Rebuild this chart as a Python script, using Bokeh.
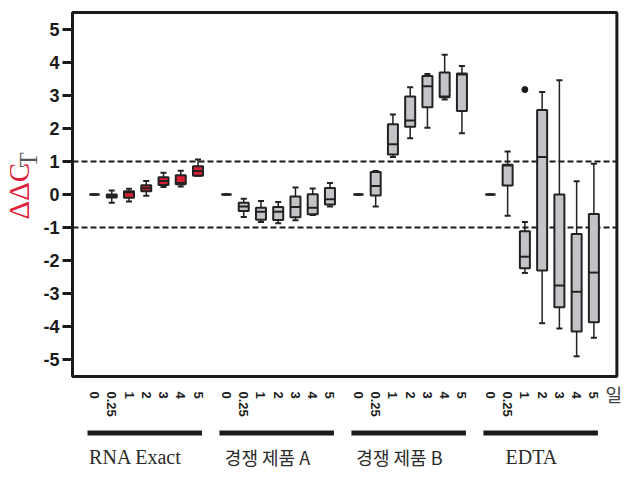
import math
from bokeh.plotting import figure
from bokeh.models import ColumnDataSource, LinearAxis, FixedTicker
from bokeh.core.properties import value
from bokeh.embed import file_html
from bokeh.resources import INLINE

# ---- data ----
days = ["0", "0.25", "1", "2", "3", "4", "5"]
groups = ["RNA Exact", "경쟁 제품 A", "경쟁 제품 B", "EDTA"]
unit_label = "일"

rna_lo  = [0, -0.25, -0.21, -0.04, 0.23, 0.24, 0.57]
rna_q1  = [0, -0.09, -0.10, 0.10, 0.29, 0.31, 0.57]
rna_med = [0, -0.05, 0.07, 0.19, 0.41, 0.35, 0.71]
rna_q3  = [0, 0.00, 0.10, 0.28, 0.52, 0.58, 0.85]
rna_hi  = [0, 0.12, 0.17, 0.41, 0.66, 0.72, 1.06]

a_lo  = [0, -0.68, -0.83, -0.87, -0.78, -0.62, -0.36]
a_q1  = [0, -0.50, -0.76, -0.77, -0.69, -0.60, -0.30]
a_med = [0, -0.36, -0.52, -0.52, -0.38, -0.40, -0.14]
a_q3  = [0, -0.25, -0.40, -0.38, -0.06, 0.01, 0.20]
a_hi  = [0, -0.13, -0.20, -0.23, 0.21, 0.18, 0.35]

b_lo  = [0, -0.36, 1.13, 1.70, 2.02, 2.87, 1.85]
b_q1  = [0, -0.03, 1.21, 2.05, 2.64, 2.94, 2.52]
b_med = [0, 0.26, 1.52, 2.24, 3.27, 2.96, 3.63]
b_q3  = [0, 0.68, 2.12, 2.96, 3.58, 3.69, 3.66]
b_hi  = [0, 0.71, 2.42, 3.24, 3.64, 4.22, 3.88]

e_lo  = [0, -0.64, -2.37, -3.89, -4.05, -4.89, -4.33]
e_q1  = [0, 0.27, -2.23, -2.30, -3.41, -4.14, -3.86]
e_med = [0, 0.88, -1.88, 1.13, -2.75, -2.94, -2.36]
e_q3  = [0, 0.90, -1.11, 2.55, 0.00, -1.19, -0.59]
e_hi  = [0, 1.30, -0.83, 3.10, 3.45, 0.40, 0.93]

outlier_group = "EDTA"
outlier_day = "1"
outlier_value = 3.17

y_ticks = [-5, -4, -3, -2, -1, 0, 1, 2, 3, 4, 5]
y_limits = (-5.5, 5.5)
threshold_lines = [1, -1]

# ---- layout (positions, not data) ----
STEP = 20           # distance between days
GROUP = 153         # distance between groups
BOX_W = 11.6
CAP_W = 7.0
PX_X = 0.8625       # px per x unit
PX_Y = 33.09        # px per y unit
X0_PX, Y0_PX = 94, 194   # pixel of (0, 0)
W, H = 622, 469

def dx(px):
    return px / PX_X

def dy(px):
    return px / PX_Y

x_left = -dx(X0_PX - 72)
x_right = 3 * GROUP + 6 * STEP + dx(23)

series = [
    (rna_lo, rna_q1, rna_med, rna_q3, rna_hi, "#dc1e35"),
    (a_lo, a_q1, a_med, a_q3, a_hi, "#c3c4c8"),
    (b_lo, b_q1, b_med, b_q3, b_hi, "#c3c4c8"),
    (e_lo, e_q1, e_med, e_q3, e_hi, "#c3c4c8"),
]

xs, lo, q1, med, q3, hi, fills, labels = [], [], [], [], [], [], [], []
for g, (l, a, m, b, h, col) in enumerate(series):
    for i, d in enumerate(days):
        x = g * GROUP + i * STEP
        xs.append(x); lo.append(l[i]); q1.append(a[i]); med.append(m[i])
        q3.append(b[i]); hi.append(h[i]); fills.append(col); labels.append(d)

src = ColumnDataSource(dict(
    x=xs, lo=lo, q1=q1, med=med, q3=q3, hi=hi, fill=fills,
    cl=[x - CAP_W / 2 for x in xs], cr=[x + CAP_W / 2 for x in xs],
    ml=[x - BOX_W / 2 for x in xs], mr=[x + BOX_W / 2 for x in xs],
))

p = figure(width=W, height=H,
           x_range=(-dx(X0_PX), dx(W - X0_PX)), y_range=(-dy(H - Y0_PX), dy(Y0_PX)),
           output_backend="svg", toolbar_location=None,
           x_axis_location=None, y_axis_location=None, min_border=0)
p.grid.visible = False
p.outline_line_color = None
p.background_fill_color = "white"
p.border_fill_color = "white"

INK = "#1a1a1a"

# y axis, pinned to the left edge of the plot box
ya = LinearAxis(fixed_location=x_left, bounds=y_limits)
ya.ticker = FixedTicker(ticks=y_ticks)
ya.major_label_overrides = {t: str(t) for t in y_ticks}
ya.axis_line_color = None
ya.major_tick_line_width = 3
ya.major_tick_line_color = INK
ya.major_tick_out = 10
ya.major_tick_in = 0
ya.minor_tick_line_color = None
ya.major_label_text_font = "Liberation Sans"
ya.major_label_text_font_style = "bold"
ya.major_label_text_font_size = "18px"
ya.major_label_text_color = INK
ya.major_label_standoff = 3
p.add_layout(ya, "left")

# x axis (day labels), pinned to the bottom edge of the plot box
xa = LinearAxis(fixed_location=y_limits[0])
xa.ticker = FixedTicker(ticks=xs)
xa.major_label_overrides = {x: d for x, d in zip(xs, labels)}
xa.axis_line_color = None
xa.major_tick_line_color = None
xa.major_tick_out = 0
xa.major_tick_in = 0
xa.minor_tick_line_color = None
xa.major_label_orientation = -math.pi / 2
xa.major_label_text_font = "Liberation Sans"
xa.major_label_text_font_style = "bold"
xa.major_label_text_font_size = "13px"
xa.major_label_text_color = INK
xa.major_label_standoff = 15
p.add_layout(xa, "below")

# threshold dashed lines
p.segment(x0=[x_left] * len(threshold_lines), y0=threshold_lines,
          x1=[x_right] * len(threshold_lines), y1=threshold_lines,
          line_dash="6 3", line_width=2, line_color=INK)

# plot frame
p.quad(left=[x_left], right=[x_right], bottom=[y_limits[0]], top=[y_limits[1]],
       fill_color=None, line_color=INK, line_width=3)

# boxes
p.segment("x", "lo", "x", "hi", source=src, line_width=1.5, line_color="#222222")
p.segment("cl", "hi", "cr", "hi", source=src, line_width=2, line_color="#222222")
p.segment("cl", "lo", "cr", "lo", source=src, line_width=2, line_color="#222222")
p.vbar(x="x", width=BOX_W, bottom="q1", top="q3", source=src, fill_color="fill",
       line_color="#222222", line_width=2)
p.segment("ml", "med", "mr", "med", source=src, line_width=2, line_color="#222222")

ox = groups.index(outlier_group) * GROUP + days.index(outlier_day) * STEP
p.scatter([ox], [outlier_value], size=6, color=INK)

# y-axis title: ΔΔC (red) with subscript T
p.text(x=[x_left - dx(54)], y=[-dy(25)], text=["ΔΔC"], angle=math.pi / 2,
       text_font=value("Liberation Serif"), text_font_size="29px",
       text_color="#e0203a", text_align="left", text_baseline="middle")
p.text(x=[x_left - dx(44)], y=[dy(27)], text=["T"], angle=math.pi / 2,
       text_font=value("Liberation Serif"), text_font_size="25px",
       text_color="#555555", text_align="left", text_baseline="middle")

# unit label
p.text(x=[xs[-1] + dx(20)], y=[y_limits[0] - dy(18)], text=[unit_label],
       text_font=value("Noto Sans CJK KR"), text_font_size="18px",
       text_color="#444444", text_align="center", text_baseline="middle")

# group bars and names
starts = [g * GROUP for g in range(len(groups))]
p.quad(left=[s - dx(7) for s in starts], right=[s + 6 * STEP + dx(4) for s in starts],
       top=[y_limits[0] - dy(54)] * len(starts), bottom=[y_limits[0] - dy(59)] * len(starts),
       fill_color=INK, line_color=None)
latin = [n for n in groups if all(ord(c) < 128 for c in n)]
korean = [n for n in groups if n not in latin]
p.text(x=[starts[groups.index(n)] + dx(41) for n in latin], y=[y_limits[0] - dy(81)] * len(latin),
       text=latin, text_font=value("Liberation Serif"), text_font_size="20px",
       text_color="#2a2a2a", text_align="center", text_baseline="middle")
p.text(x=[starts[groups.index(n)] + dx(41) for n in korean], y=[y_limits[0] - dy(81)] * len(korean),
       text=korean, text_font=value("Noto Sans CJK KR"), text_font_size="18px",
       text_color="#2a2a2a", text_align="center", text_baseline="middle")

open("out.html", "w").write(file_html(p, INLINE))
